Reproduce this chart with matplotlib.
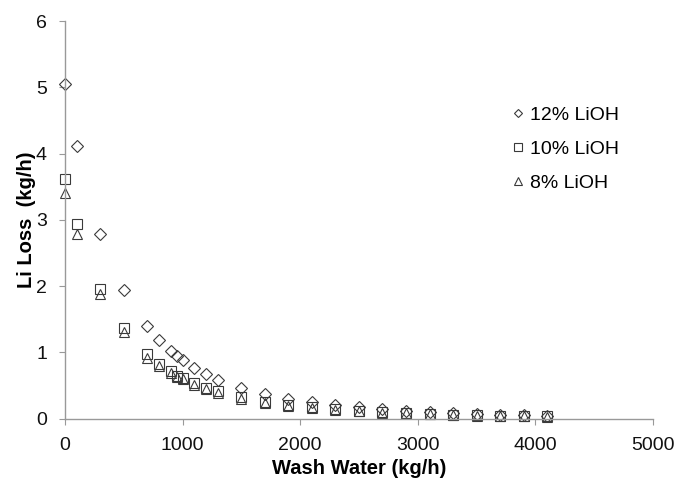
import matplotlib.pyplot as plt
import numpy as np

plt.rcParams['font.family'] = ['Liberation Sans', 'DejaVu Sans']

# wash water (kg/h)
water = [0, 100, 300, 500, 700, 800, 900, 950, 1000, 1100, 1200, 1300, 1500, 1700,
         1900, 2100, 2300, 2500, 2700, 2900, 3100, 3300, 3500, 3700, 3900, 4100]

# Li loss (kg/h)
loss_12 = [5.05, 4.12, 2.78, 1.94, 1.39, 1.19, 1.02, 0.94, 0.88, 0.77, 0.67, 0.58, 0.46, 0.37,
           0.30, 0.25, 0.21, 0.17, 0.14, 0.12, 0.10, 0.08, 0.07, 0.06, 0.05, 0.04]
loss_10 = [3.62, 2.94, 1.96, 1.36, 0.97, 0.83, 0.72, 0.65, 0.61, 0.53, 0.46, 0.41, 0.32, 0.25,
           0.21, 0.17, 0.14, 0.12, 0.10, 0.09, 0.07, 0.06, 0.05, 0.045, 0.04, 0.035]
loss_8 = [3.41, 2.78, 1.88, 1.30, 0.92, 0.80, 0.69, 0.63, 0.60, 0.51, 0.44, 0.39, 0.30, 0.24,
          0.19, 0.16, 0.13, 0.11, 0.09, 0.08, 0.065, 0.055, 0.045, 0.04, 0.035, 0.03]

labels = ['12% LiOH', '10% LiOH', '8% LiOH']

fig = plt.figure(figsize=(6.77, 4.8), dpi=100)
ax = fig.add_axes([0.096, 0.128, 0.8685, 0.828])

col = '#3a3a3a'
ax.plot(water, loss_12, linestyle='none', marker='D', markersize=6, mfc='none', mec=col, mew=0.8,
        label=labels[0], clip_on=False)
ax.plot(water, loss_10, linestyle='none', marker='s', markersize=7, mfc='none', mec=col, mew=0.8,
        label=labels[1], clip_on=False)
ax.plot(water, loss_8, linestyle='none', marker='^', markersize=7.5, mfc='none', mec=col, mew=0.8,
        label=labels[2], clip_on=False)

ax.set_xlim(0, 5000)
ax.set_ylim(0, 6)
ax.set_xticks(np.arange(0, 5001, 1000))
ax.set_yticks(np.arange(0, 7, 1))

for s in ['top', 'right']:
    ax.spines[s].set_visible(False)
for s in ['left', 'bottom']:
    ax.spines[s].set_color('#999999')
    ax.spines[s].set_linewidth(1)
ax.tick_params(direction='out', length=4, color='#999999', labelsize=14, labelcolor='#111111', pad=9)

ax.set_xlabel('Wash Water (kg/h)', fontsize=14.5, fontweight='bold', labelpad=4)
ax.set_ylabel('Li Loss  (kg/h)', fontsize=14.5, fontweight='bold', labelpad=0)

leg = ax.legend(loc='upper left', bbox_to_anchor=(0.725, 0.83), frameon=False, fontsize=14,
                handletextpad=0.1, handlelength=1.0, labelspacing=0.85, markerscale=0.75)

plt.savefig('out.png', dpi=100)
